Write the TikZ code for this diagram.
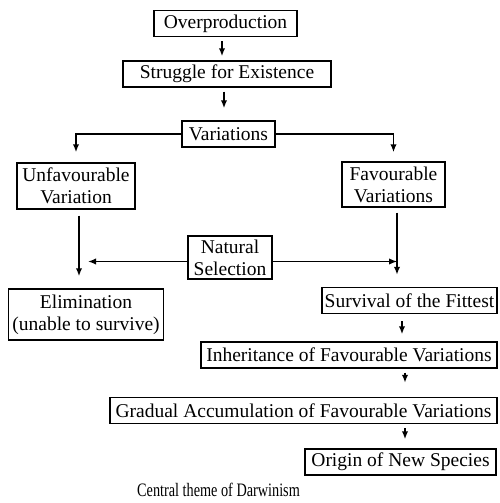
\documentclass[tikz,border=0pt]{standalone}
\usepackage{fontspec}
\setmainfont{Liberation Serif}
\newfontfamily\capfont[FakeStretch=0.75]{Liberation Serif}
\usetikzlibrary{arrows.meta}
\begin{document}
\begin{tikzpicture}[
    x=0.5pt, y=-0.5pt,
    every node/.style={font=\fontsize{9.75}{11}\selectfont, align=center},
    box/.style={rectangle, draw=black, line width=0.7pt, inner sep=1pt, minimum height=13pt},
    arr/.style={-{Latex[length=4pt,width=3.2pt]}, line width=0.9pt, black}
]
\useasboundingbox (0,0) rectangle (499,503);
\node[box, minimum width=71.5pt] (over)  at (225.5, 23.5) {Overproduction};
\node[box, minimum width=104pt]  (strug) at (227, 74)     {Struggle for Existence};
\node[box, minimum width=46.5pt] (var)   at (228.5, 134)  {Variations};
\node[box, minimum width=59pt, minimum height=23pt]   (unfav) at (76, 186)    {Unfavourable\\Variation};
\node[box, minimum width=51.5pt, minimum height=22.5pt] (fav) at (393.5, 184.5) {Favourable\\Variations};
\node[box, minimum width=42pt, minimum height=21.5pt] (nat)   at (230, 257.5) {Natural\\Selection};
\node[box, minimum width=77.5pt, minimum height=25.5pt] (elim) at (86, 314.5) {Elimination\\(unable to survive)};
\node[box, minimum width=87.5pt] (surv)  at (409.5, 300.5) {Survival of the Fittest};
\node[box, minimum width=148pt]  (inh)   at (349, 355)    {Inheritance of Favourable Variations};
\node[box, minimum width=193.5pt] (grad) at (303.5, 410.5) {Gradual Accumulation of Favourable Variations};
\node[box, minimum width=95.5pt] (orig)  at (400.5, 462)  {Origin of New Species};
\node[font=\capfont\fontsize{9.5}{11}\selectfont] (cap) at (218.5, 490) {Central theme of Darwinism};
% main line
\draw[arr, shorten <=2pt, shorten >=2pt] (over.south -| 222,0) -- (strug.north -| 222,0);
\draw[arr, shorten <=2pt, shorten >=6pt] (strug.south -| 224,0) -- (var.north -| 224,0);
\draw[arr, shorten >=5pt] (var.west) -| (unfav.north);
\draw[arr, shorten >=4.5pt] (var.east) -| (fav.north);
\draw[arr, shorten <=3pt, shorten >=6pt] (unfav.south -| 79,0) -- (elim.north -| 79,0);
\draw[arr, shorten <=2.5pt, shorten >=6pt] (fav.south -| 397,0) -- (surv.north -| 397,0);
\draw[arr, shorten >=4.5pt] ([yshift=-2pt]nat.west) -- ([yshift=-2pt]nat.west -| 79,0);
\draw[arr, line width=0.6pt] ([yshift=-2pt]nat.east) -- ([yshift=-2pt]nat.east -| 397,0);
\draw[arr, shorten <=3.5pt, shorten >=3.5pt] (surv.south -| 402,0) -- (inh.north -| 402,0);
\draw[arr, shorten <=2pt, shorten >=7pt] (inh.south -| 405,0) -- (grad.north -| 405,0);
\draw[arr, shorten <=2pt, shorten >=4.5pt] (grad.south -| 405,0) -- (orig.north -| 405,0);
\end{tikzpicture}
\end{document}
